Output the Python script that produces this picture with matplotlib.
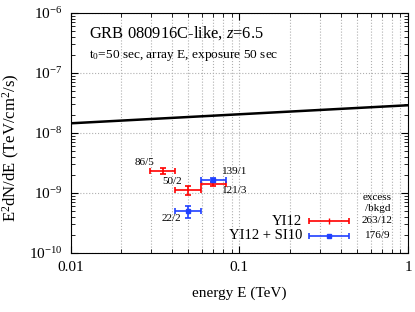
import matplotlib
matplotlib.use("Agg")
import matplotlib.pyplot as plt
from matplotlib.ticker import LogLocator, NullFormatter, FixedLocator

plt.rcParams['font.family'] = ['Liberation Serif', 'DejaVu Serif']
plt.rcParams['mathtext.fontset'] = 'custom'
plt.rcParams['mathtext.rm'] = 'Liberation Serif'
plt.rcParams['mathtext.it'] = 'Liberation Serif:italic'

# sensitivity line
line_e = [0.01, 1.0]
line_f = [1.45e-8, 2.9e-8]

# YI12 (red)
red_e = [0.0352, 0.0498, 0.0701]
red_f = [2.36e-9, 1.13e-9, 1.41e-9]
red_elo = [0.0296, 0.0418, 0.0592]
red_ehi = [0.0418, 0.0592, 0.083]
red_ferr = [0.27e-9, 0.2e-9, 0.1e-9]
red_labels = ["86/5", "50/2", "121/3"]

# YI12 + SI10 (blue)
blue_e = [0.0701, 0.0498]
blue_f = [1.65e-9, 4.95e-10]
blue_elo = [0.0592, 0.0418]
blue_ehi = [0.083, 0.0592]
blue_ferr = [0.11e-9, 1.15e-10]
blue_labels = ["139/1", "22/2"]

legend_counts = ["263/12", "176/9"]

fig = plt.figure(figsize=(4.15, 3.12), dpi=100)
ax = fig.add_axes([70.5/415, 1-253/312, (408-70.5)/415, (253-13)/312])
ax.set_xscale('log')
ax.set_yscale('log')
ax.set_xlim(0.01, 1)
ax.set_ylim(1e-10, 1e-6)

ax.plot(line_e, line_f, color='black', lw=1.8)

def draw(e, f, lo, hi, ferr, color, marker):
    xerr = [[ei - l for ei, l in zip(e, lo)], [h - ei for ei, h in zip(e, hi)]]
    ax.errorbar(e, f, xerr=xerr, yerr=ferr, fmt=marker, color=color, ms=3,
                lw=1.2, capsize=2, capthick=1.2, elinewidth=1.2)

draw(red_e, red_f, red_elo, red_ehi, red_ferr, '#ff0000', 'none')
draw(blue_e, blue_f, blue_elo, blue_ehi, blue_ferr, '#2040ff', 's')

fs = 8
ax.text(0.0314, 3.25e-9, red_labels[0], ha='right', va='center', fontsize=fs)
ax.text(0.0455, 1.55e-9, red_labels[1], ha='right', va='center', fontsize=fs)
ax.text(0.0793, 1.09e-9, red_labels[2], ha='left', va='center', fontsize=fs)
ax.text(0.0793, 2.26e-9, blue_labels[0], ha='left', va='center', fontsize=fs)
ax.text(0.0453, 3.8e-10, blue_labels[1], ha='right', va='center', fontsize=fs)

ax.text(0.055, 0.955, 'GRB 080916C-like, $\\it{z}$=6.5', transform=ax.transAxes,
        fontsize=11.9, ha='left', va='top')
ax.text(0.055, 0.856, 't$_0$=50 sec, array E, exposure 50 sec', transform=ax.transAxes,
        fontsize=9.6, ha='left', va='top')

# legend, drawn manually in axes coordinates
tr = ax.transAxes
ax.text(0.686, 0.133, 'YI12', transform=tr, ha='right', va='center', fontsize=10.5)
ax.text(0.686, 0.071, 'YI12 + SI10', transform=tr, ha='right', va='center', fontsize=10.5)
ax.errorbar([0.767], [0.135], xerr=[[0.059], [0.059]], transform=tr, fmt='none',
            color='#ff0000', lw=1.2, capsize=2, capthick=1.2)
ax.plot([0.767], [0.135], marker='|', color='#ff0000', ms=4, transform=tr)
ax.errorbar([0.767], [0.071], xerr=[[0.059], [0.059]], transform=tr, fmt='s', ms=2.5,
            color='#2040ff', lw=1.2, capsize=2, capthick=1.2)
ax.text(0.9096, 0.232, 'excess', transform=tr, ha='center', va='center', fontsize=8)
ax.text(0.9096, 0.186, '/bkgd', transform=tr, ha='center', va='center', fontsize=8)
ax.text(0.9096, 0.135, legend_counts[0], transform=tr, ha='center', va='center', fontsize=8)
ax.text(0.9096, 0.071, legend_counts[1], transform=tr, ha='center', va='center', fontsize=8)

# ticks
ax.xaxis.set_major_locator(FixedLocator([0.01, 0.1, 1]))
ax.set_xticklabels(['0.01', '0.1', '1'])
ax.xaxis.set_minor_locator(LogLocator(base=10, subs=range(2, 10)))
ax.xaxis.set_minor_formatter(NullFormatter())
ax.yaxis.set_major_locator(FixedLocator([1e-10, 1e-9, 1e-8, 1e-7, 1e-6]))
ax.set_yticklabels(['10$^{-10}$', '10$^{-9}$', '10$^{-8}$', '10$^{-7}$', '10$^{-6}$'])
ax.yaxis.set_minor_locator(LogLocator(base=10, subs=range(2, 10)))
ax.yaxis.set_minor_formatter(NullFormatter())
ax.tick_params(which='both', direction='in', top=True, right=True, labelsize=11)
ax.tick_params(which='major', length=5, width=0.8, pad=6)
ax.tick_params(which='minor', length=3, width=0.6)
ax.grid(True, which='major', axis='both', color='#b0b0b0', ls=':', lw=0.8)
ax.grid(True, which='minor', axis='x', color='#b0b0b0', ls=':', lw=0.8)

ax.set_xlabel('energy E (TeV)', fontsize=11, labelpad=9)
ax.set_ylabel('E$^2$dN/dE (TeV/cm$^2$/s)', fontsize=12)
ax.yaxis.set_label_coords(-0.145, 0.4375)

fig.savefig('out.png', dpi=100)
